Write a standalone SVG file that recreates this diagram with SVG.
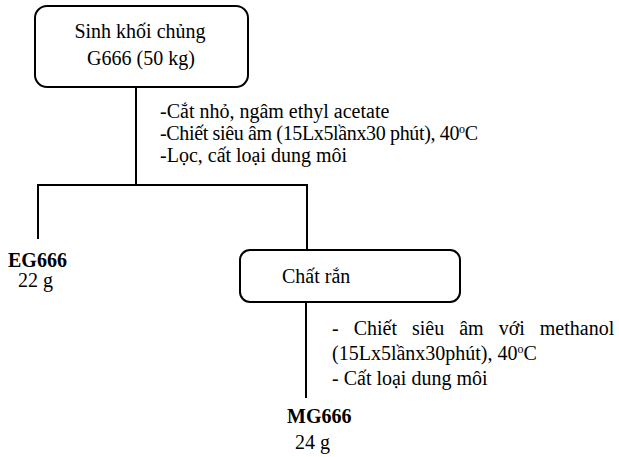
<svg xmlns="http://www.w3.org/2000/svg" width="619" height="457" viewBox="0 0 619 457">
  <style>
    .box { fill: #ffffff; stroke: #000000; stroke-width: 2; }
    .wire { fill: none; stroke: #000000; stroke-width: 2; }
    text { font-family: "Liberation Serif", "Times New Roman", serif; font-size: 20px; fill: #000000; }
    .b { font-weight: bold; }
    .c { text-anchor: middle; }
    .sup { font-size: 12px; }
  </style>

  <g id="connectors">
    <path class="wire" d="M136,87 V185"/>
    <path class="wire" d="M38,239 V185 H307 V250"/>
    <path class="wire" d="M306,302 V398"/>
  </g>

  <g id="node-sinh-khoi">
    <rect class="box" x="35" y="6" width="213" height="81" rx="12" ry="12"/>
    <text class="c" x="140" y="38">Sinh khối chủng</text>
    <text class="c" x="141" y="65">G666 (50 kg)</text>
  </g>

  <g id="step-1">
    <text x="160" y="118">-Cắt nhỏ, ngâm ethyl acetate</text>
    <text x="160" y="140" textLength="318">-Chiết siêu âm (15Lx5lầnx30 phút), 40<tspan class="sup" dy="-7">o</tspan><tspan dy="7">C</tspan></text>
    <text x="160" y="162">-Lọc, cất loại dung môi</text>
  </g>

  <g id="node-eg666">
    <text class="b" x="8" y="267">EG666</text>
    <text x="18" y="287">22 g</text>
  </g>

  <g id="node-chat-ran">
    <rect class="box" x="240" y="250" width="220" height="52" rx="10" ry="10"/>
    <text x="282" y="283">Chất rắn</text>
  </g>

  <g id="step-2">
    <text x="332" y="335" word-spacing="10">- Chiết siêu âm với methanol</text>
    <text x="332" y="360">(15Lx5lầnx30phút), 40<tspan class="sup" dy="-7">o</tspan><tspan dy="7">C</tspan></text>
    <text x="332" y="385">- Cất loại dung môi</text>
  </g>

  <g id="node-mg666">
    <text class="b" x="287" y="423">MG666</text>
    <text x="295" y="449">24 g</text>
  </g>
</svg>
